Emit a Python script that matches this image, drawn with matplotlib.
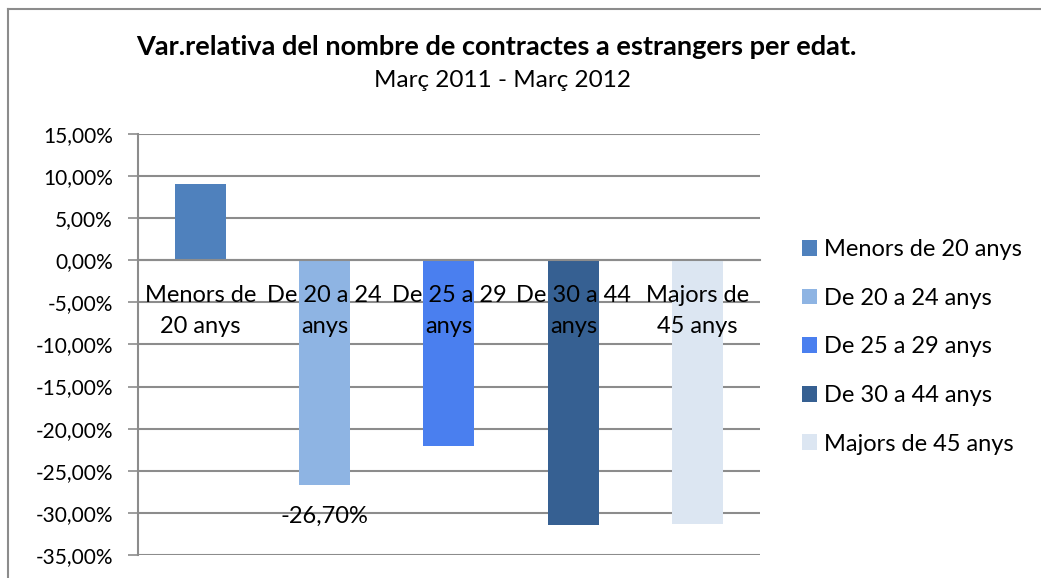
import matplotlib.pyplot as plt
from matplotlib.lines import Line2D
import numpy as np

plt.rcParams['font.family'] = ['Lato', 'DejaVu Sans']

categories = ["Menors de 20 anys", "De 20 a 24 anys", "De 25 a 29 anys",
              "De 30 a 44 anys", "Majors de 45 anys"]
tick_labels = ["Menors de\n20 anys", "De 20 a 24\nanys", "De 25 a 29\nanys",
               "De 30 a 44\nanys", "Majors de\n45 anys"]
values = [9.1, -26.70, -22.0, -31.4, -31.3]
colors = ["#4F81BD", "#8EB4E3", "#4A7FEF", "#366092", "#DCE6F2"]
yticks = np.arange(-35, 20, 5)

fig = plt.figure(figsize=(10.41, 5.78), dpi=100)
ax = fig.add_axes([0.1326, 0.0398, 0.5974, 0.7284])

x = np.arange(len(categories))
bars = ax.bar(x, values, width=0.41, color=colors, label=categories, zorder=2)

ax.set_xlim(-0.5, len(categories) - 0.5)
ax.set_ylim(-35, 15)
ax.set_yticks(yticks)
ax.set_yticklabels([f"{v:.2f}%".replace(".", ",") for v in yticks], fontsize=15)
ax.set_axisbelow(True)
ax.yaxis.grid(True, color="#8c8c8c", linewidth=1.5)
ax.tick_params(axis="y", length=7, width=1.2, color="#8c8c8c", pad=11)

# category axis at zero, ticks between categories, labels on top of bars
ax.xaxis.set_zorder(4)
ax.spines["bottom"].set_position(("data", 0))
ax.spines["bottom"].set_color("#8c8c8c")
ax.spines["bottom"].set_linewidth(1.5)
ax.spines["left"].set_color("#8c8c8c")
ax.spines["left"].set_linewidth(1.5)
ax.spines["top"].set_visible(False)
ax.spines["right"].set_visible(False)
ax.set_xticks(np.arange(-0.5, len(categories), 1))
ax.set_xticklabels([])
ax.tick_params(axis="x", which="major", direction="in", length=-7, width=1.2, color="#8c8c8c")
ax.set_xticks(x, minor=True)
ax.set_xticklabels(tick_labels, minor=True, fontsize=17, linespacing=1.6)
ax.tick_params(axis="x", which="minor", length=0, pad=18)

# data label
ax.text(x[1], values[1] - 3.7, f"{values[1]:.2f}%".replace(".", ","), ha="center",
        va="center", fontsize=17, zorder=5)

ax.legend(handles=bars, labels=categories, loc="center left",
          bbox_to_anchor=(0.770, 0.400), bbox_transform=fig.transFigure,
          frameon=False, fontsize=17, handlelength=0.65, handleheight=0.65,
          handletextpad=0.3, labelspacing=1.17, borderpad=0, borderaxespad=0)

fig.text(0.4765, 0.919, "Var.relativa del nombre de contractes a estrangers per edat.",
         ha="center", va="center", fontsize=19.5, fontweight="bold")
fig.text(0.483, 0.860, "Març 2011 - Març 2012", ha="center", va="center", fontsize=17.5)

# chart border (left and top)
fig.add_artist(Line2D([0.0077, 0.0077], [0.0, 0.984], color="#8c8c8c", linewidth=1.5,
                      transform=fig.transFigure))
fig.add_artist(Line2D([0.0077, 1.0], [0.984, 0.984], color="#8c8c8c", linewidth=1.5,
                      transform=fig.transFigure))

fig.savefig("out.png", dpi=100)
